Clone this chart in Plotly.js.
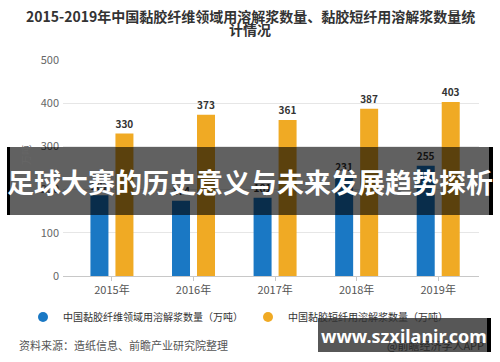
<!DOCTYPE html>
<html>
<head>
<meta charset="utf-8">
<script src="https://cdn.plot.ly/plotly-3.0.1.min.js"></script>
<style>html,body{margin:0;padding:0;background:#fff;}#chart{width:500px;height:362px;}</style>
</head>
<body>
<div id="chart"></div>
<script>
const years = ['2015年','2016年','2017年','2018年','2019年'];
const fiberPulp = [187, 174, 181, 231, 255];
const staplePulp = [330, 373, 361, 387, 403];
const yTicks = [0, 100, 200, 300, 400, 500];
const seriesNames = ['中国黏胶纤维领域用溶解浆数量（万吨）', '中国黏胶短纤用溶解浆数量（万吨）'];
const titleLines = ['2015-2019年中国黏胶纤维领域用溶解浆数量、黏胶短纤用溶解浆数量统', '计情况'];
const bannerText = '足球大赛的历史意义与未来发展趋势探析';
const sourceText = '资料来源：造纸信息、前瞻产业研究院整理';
const siteText = 'www.szxilanir.com';
const appText = '@前瞻经济学人APP';
const yTitle = '单位：万吨';

const W = 500, H = 362;
const M = {l: 63, r: 21, t: 60, b: 86};
const PW = W - M.l - M.r, PH = H - M.t - M.b;
const px = x => (x - M.l) / PW;
const py = y => (H - M.b - y) / PH;

const CJK = '"Noto Sans CJK SC", "Noto Sans", sans-serif';
const blue = '#1a78c4';
const orange = '#f0aa24';

const data = [
  {type: 'bar', x: years, y: fiberPulp, name: seriesNames[0], marker: {color: blue},
   text: fiberPulp.map(String), textposition: 'outside', cliponaxis: false,
   textfont: {family: CJK, size: 11.5, color: '#333', weight: 'bold'}, showlegend: false, hoverinfo: 'none'},
  {type: 'bar', x: years, y: staplePulp, name: seriesNames[1], marker: {color: orange},
   text: staplePulp.map(String), textposition: 'outside', cliponaxis: false,
   textfont: {family: CJK, size: 11.5, color: '#333', weight: 'bold'}, showlegend: false, hoverinfo: 'none'},
  {type: 'scatter', mode: 'markers', x: [null], y: [null], name: seriesNames[0],
   marker: {color: blue, size: 10, symbol: 'circle'}, showlegend: true},
  {type: 'scatter', mode: 'markers', x: [null], y: [null], name: seriesNames[1],
   marker: {color: orange, size: 10, symbol: 'circle'}, showlegend: true}
];

const layout = {
  width: W, height: H,
  margin: M,
  paper_bgcolor: '#fff', plot_bgcolor: '#fff',
  font: {family: CJK, color: '#333'},
  barmode: 'group', bargap: 0.387, bargroupgap: 0.28,
  xaxis: {type: 'category', range: [-0.6, 4.5], showgrid: false, showline: true, linecolor: '#c8c8c8',
          ticks: 'outside', ticklen: 4, tickcolor: '#c8c8c8', zeroline: false,
          tickfont: {family: CJK, size: 11, color: '#555'}},
  yaxis: {range: [0, 500], tickvals: yTicks, ticktext: yTicks.map(String), showgrid: true, gridcolor: '#e6e6e6',
          zeroline: false, showline: false, ticks: '', ticklabelstandoff: 3,
          tickfont: {family: CJK, size: 11, color: '#666'}},
  legend: {orientation: 'h', x: px(23), xanchor: 'left', y: py(317), yanchor: 'middle',
           font: {family: CJK, size: 10, color: '#333'}, bgcolor: 'rgba(0,0,0,0)', itemwidth: 30},
  shapes: [
    {type: 'rect', xref: 'paper', yref: 'paper', x0: px(7), x1: px(493), y0: py(147), y1: py(215),
     fillcolor: 'rgba(0,0,0,0.62)', line: {width: 0}, layer: 'above'},
    {type: 'rect', xref: 'paper', yref: 'paper', x0: px(7), x1: px(10), y0: py(147), y1: py(215),
     fillcolor: '#000', line: {width: 0}, layer: 'above'},
    {type: 'rect', xref: 'paper', yref: 'paper', x0: px(489), x1: px(493), y0: py(147), y1: py(215),
     fillcolor: '#000', line: {width: 0}, layer: 'above'},
    {type: 'rect', xref: 'paper', yref: 'paper', x0: px(318), x1: px(490), y0: py(318), y1: py(352),
     fillcolor: 'rgba(0,0,0,0.66)', line: {width: 0}, layer: 'above'},
    {type: 'rect', xref: 'paper', yref: 'paper', x0: px(487), x1: px(491), y0: py(318), y1: py(352),
     fillcolor: '#000', line: {width: 0}, layer: 'above'}
  ],
  annotations: [
    {text: titleLines[0], xref: 'paper', yref: 'paper', x: px(250), y: py(16), xanchor: 'center', yanchor: 'middle',
     showarrow: false, font: {family: CJK, size: 14, color: '#333', weight: 'bold'}},
    {text: titleLines[1], xref: 'paper', yref: 'paper', x: px(250), y: py(29), xanchor: 'center', yanchor: 'middle',
     showarrow: false, font: {family: CJK, size: 14, color: '#333', weight: 'bold'}},
    {text: yTitle, xref: 'paper', yref: 'paper', x: px(25), y: py(170), xanchor: 'center', yanchor: 'middle',
     textangle: -90, showarrow: false, font: {family: CJK, size: 10, color: '#666'}},
    {text: sourceText, xref: 'paper', yref: 'paper', x: px(17), y: py(345), xanchor: 'left', yanchor: 'middle',
     showarrow: false, font: {family: CJK, size: 11, color: '#555'}},
    {text: appText, xref: 'paper', yref: 'paper', x: px(385), y: py(345), xanchor: 'left', yanchor: 'middle',
     showarrow: false, font: {family: CJK, size: 11, color: '#2a2a2a'}},
    {text: bannerText, xref: 'paper', yref: 'paper', x: px(250), y: py(181), xanchor: 'center', yanchor: 'middle',
     showarrow: false, font: {family: CJK, size: 27, color: '#fff', weight: 'bold'}},
    {text: siteText, xref: 'paper', yref: 'paper', x: px(404), y: py(336), xanchor: 'center', yanchor: 'middle',
     showarrow: false, font: {family: '"Noto Sans", "DejaVu Sans", sans-serif', size: 18, color: '#fff', weight: 'bold'}}
  ]
};

Plotly.newPlot('chart', data, layout, {staticPlot: true, displayModeBar: false});
</script>
</body>
</html>
